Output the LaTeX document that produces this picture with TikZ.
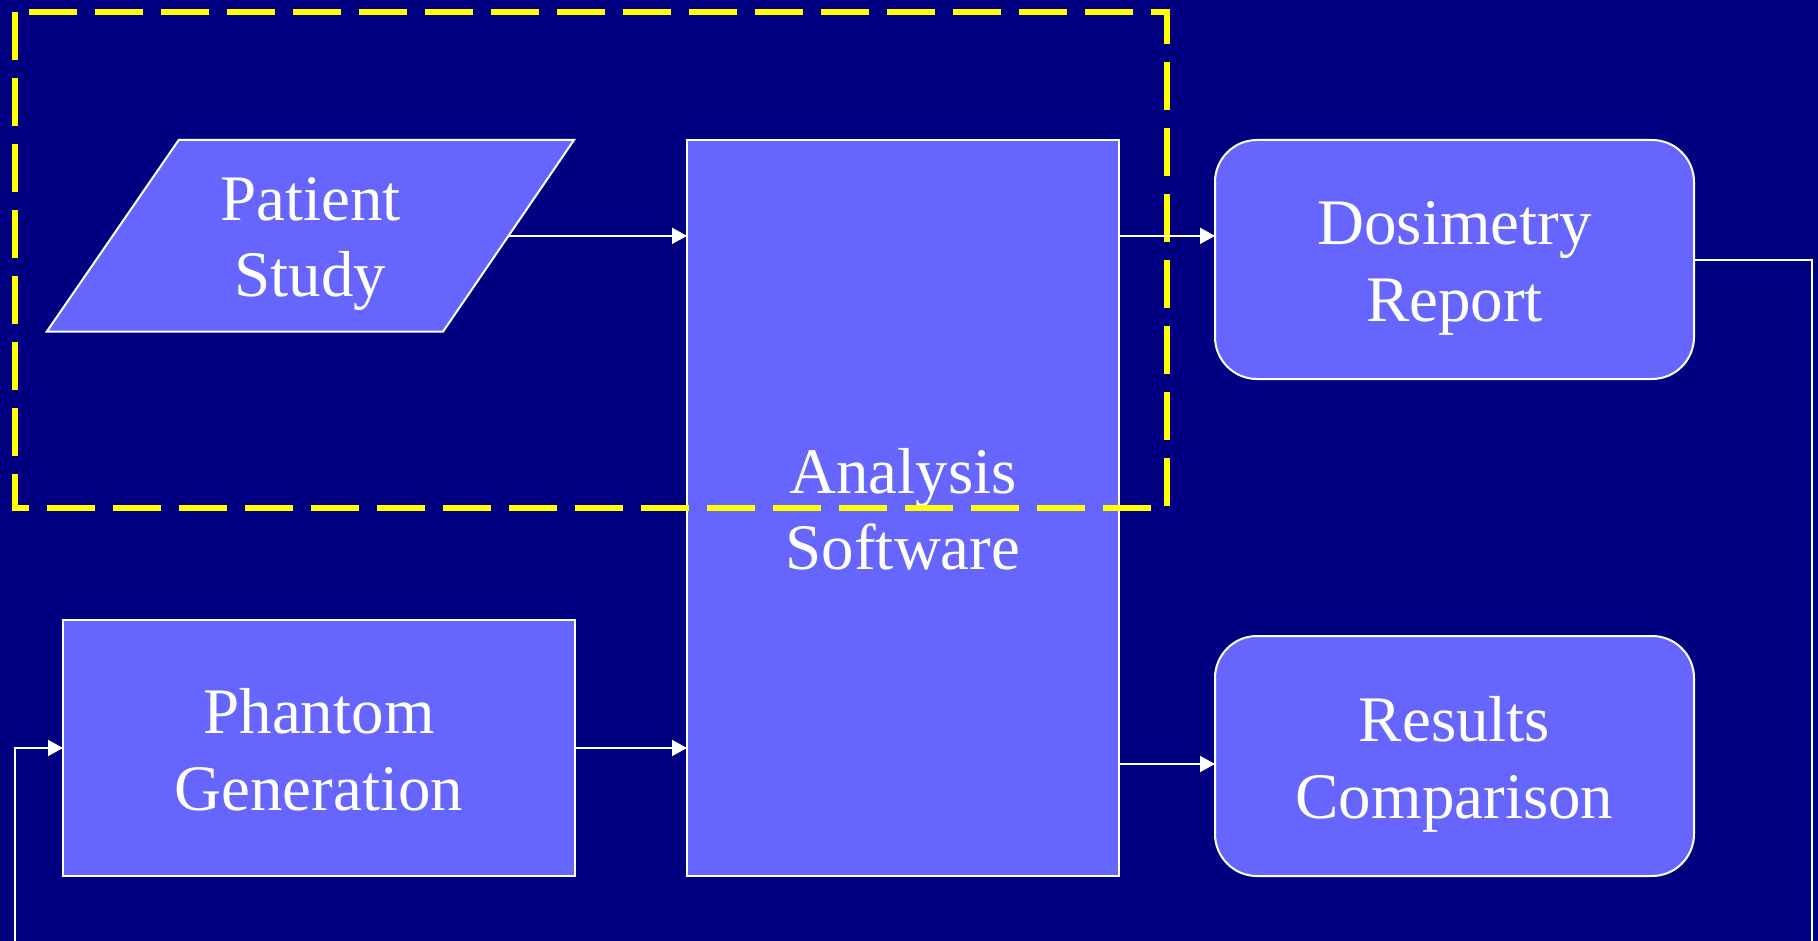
\documentclass[tikz,border=0pt]{standalone}
\usepackage{fontspec}
\setmainfont{Liberation Serif}
\usetikzlibrary{arrows.meta,calc}
\definecolor{bgnavy}{HTML}{000080}
\definecolor{boxblue}{HTML}{6666FF}
\definecolor{dashyellow}{HTML}{FFFF00}
\begin{document}
\begin{tikzpicture}[x=1pt,y=-1pt,
  box/.style={draw=white, line width=2pt, fill=boxblue, inner sep=0pt, outer sep=0pt},
  roundbox/.style={box, rounded corners=42pt},
  lbl/.style={text=white, anchor=base, inner sep=0pt, font=\fontsize{65}{76}\selectfont},
  wire/.style={draw=white, line width=2pt},
  conn/.style={wire, -{Triangle[length=15pt,width=16pt]}},
  group/.style={draw=dashyellow, line width=6pt, dash pattern=on 48pt off 18pt, dash phase=52pt}]
\useasboundingbox (0,0) rectangle (1818,941);
\fill[bgnavy] (0,0) rectangle (1818,941);
\clip (0,0) rectangle (1818,941);

% Patient Study (parallelogram)
\coordinate (patTL) at (178.7,140);
\coordinate (patTR) at (574,140);
\coordinate (patBR) at (443,331.7);
\coordinate (patBL) at (46.7,331.7);
\draw[box] (patTL) -- (patTR) -- (patBR) -- (patBL) -- cycle;
\coordinate (patE) at ($(patTR)!0.5!(patBR)$);
\node[lbl] (patL1) at (310.6,221) {Patient};
\node[lbl] (patL2) at (310.6,297) {Study};

% Analysis Software
\node[box, minimum width=432pt, minimum height=736pt] (ana) at (903,508) {};
\node[lbl] (anaL1) at (903,493) {Analysis};
\node[lbl] (anaL2) at (903,569) {Software};

% Phantom Generation
\node[box, minimum width=512pt, minimum height=256pt] (pha) at (319,748) {};
\node[lbl] (phaL1) at (319,733) {Phantom};
\node[lbl] (phaL2) at (319,810) {Generation};

% Dosimetry Report
\node[roundbox, minimum width=479pt, minimum height=239pt] (dos) at (1454.5,259.5) {};
\node[lbl] (dosL1) at (1454.5,245) {Dosimetry};
\node[lbl] (dosL2) at (1454.5,322) {Report};

% Results Comparison
\node[roundbox, minimum width=479pt, minimum height=240pt] (res) at (1454.5,756) {};
\node[lbl] (resL1) at (1454.5,741) {Results};
\node[lbl] (resL2) at (1454.5,818) {Comparison};

% dashed group
\draw[group] (15,12) -- (1167,12) -- (1167,508) -- (15,508) -- cycle;

% connectors
\coordinate (resIn) at (1119,764);
\coordinate (fbR) at (1812,260);
\coordinate (fbRBot) at (1812,960);
\coordinate (fbLBot) at (15,960);
\draw[conn] (patE) -- (patE -| ana.west);
\draw[conn] (pha.east) -- (pha.east -| ana.west);
\draw[conn] (ana.east |- patE) -- (dos.west |- patE);
\draw[conn] (ana.east |- resIn) -- (res.west |- resIn);
\draw[wire] (dos.east |- fbR) -- (fbR) -- (fbRBot);
\draw[conn] (fbLBot) |- (pha.west);
\end{tikzpicture}
\end{document}
